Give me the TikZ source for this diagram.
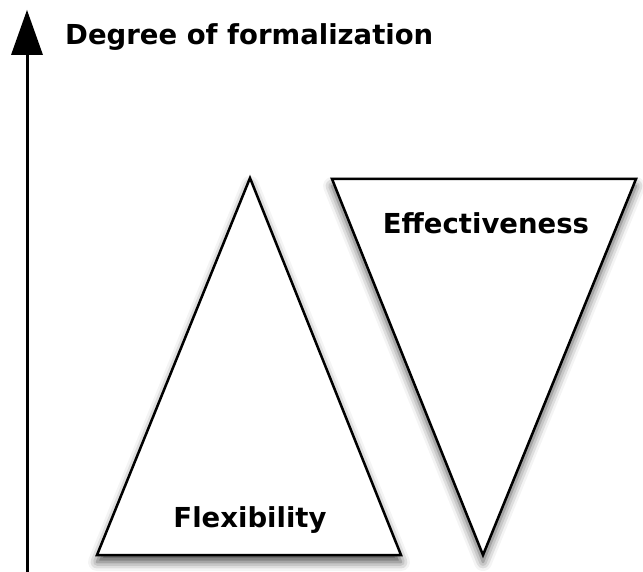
\documentclass[tikz,border=0pt]{standalone}
\usepackage{fontspec}
\setmainfont{DejaVu Sans}
\usetikzlibrary{arrows.meta,shadows.blur}
\tikzset{
  tri/.style={draw=black,line width=2.5pt,fill=white,line join=miter,
    blur shadow={shadow xshift=0pt,shadow yshift=-7pt,shadow blur radius=9pt,shadow opacity=70}},
  lbl/.style={font=\bfseries\fontsize{27.5}{33}\selectfont,inner sep=0pt,anchor=base}
}
\begin{document}
\begin{tikzpicture}
			[line cap=butt,line join=miter,x=1pt,y=-1pt]
			\useasboundingbox (0,0) rectangle (643,572);
			\coordinate (axisfoot) at (27,572);
			\coordinate (axistip) at (27,10);
			\coordinate (flextop) at (250,178);
			\coordinate (flexleft) at (97,555);
			\coordinate (flexright) at (401,555);
			\coordinate (effleft) at (332,179);
			\coordinate (effright) at (636,179);
			\coordinate (effbottom) at (483,555);
			\draw [tri] (flextop) -- (flexright) -- (flexleft) -- cycle;
			\draw [tri] (effleft) -- (effright) -- (effbottom) -- cycle;
			\draw [line width=3pt,-{Triangle[width=32pt,length=45pt,line width=0pt,fill=black,color=black]}] (axisfoot) -- (axistip);
			\node [lbl,anchor=base west] (axislabel) at (65,45) {Degree of formalization};
			\node [lbl] (efflabel) at (486,234) {Effectiveness};
			\node [lbl] (flexlabel) at (250,527) {Flexibility};
		\end{tikzpicture}
\end{document}
